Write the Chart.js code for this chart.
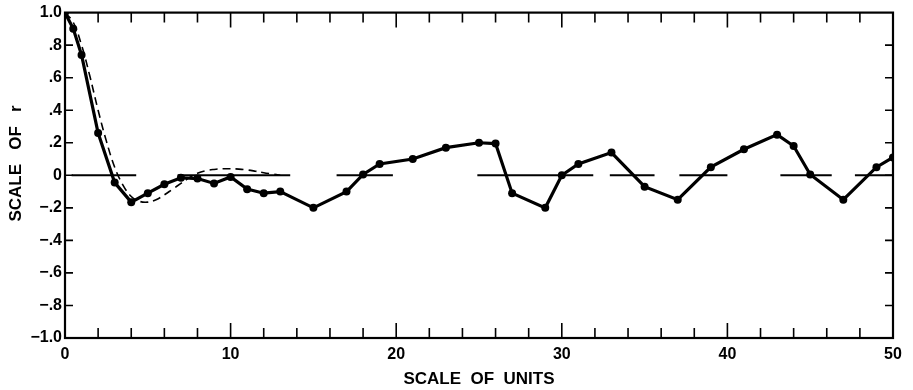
<!DOCTYPE html>
<html>
<head>
<meta charset="utf-8">
<script src="https://cdn.jsdelivr.net/npm/chart.js@4/dist/chart.umd.min.js"></script>
<style>
  html, body { margin: 0; padding: 0; background: #fff; }
  #wrap { width: 913px; height: 390px; position: relative; }
</style>
</head>
<body>
<div id="wrap"><canvas id="c"></canvas></div>
<script>
// Observed correlation (solid line with dots)
const obsX = [0, 0.5, 1, 2, 3, 4, 5, 6, 7, 8, 9, 10, 11, 12, 13, 15, 17, 18, 19, 21, 23, 25, 26, 27, 29, 30, 31, 33, 35, 37, 39, 41, 43, 44, 45, 47, 49, 50];
const obsY = [1.0, 0.90, 0.74, 0.26, -0.045, -0.165, -0.11, -0.055, -0.015, -0.02, -0.05, -0.01, -0.085, -0.11, -0.10, -0.20, -0.10, 0.005, 0.07, 0.10, 0.17, 0.20, 0.195, -0.11, -0.20, 0.0, 0.07, 0.14, -0.07, -0.15, 0.05, 0.16, 0.25, 0.18, 0.005, -0.15, 0.05, 0.11];

// Theoretical curve (dashed)
const theoX = [0, 0.5, 1, 1.5, 2, 2.5, 3, 3.5, 4, 4.5, 5, 5.5, 6, 6.5, 7, 7.5, 8, 8.5, 9, 9.5, 10, 10.5, 11, 11.5, 12, 12.5, 13];
const theoY = [1.0, 0.94, 0.80, 0.61, 0.40, 0.21, 0.05, -0.06, -0.13, -0.16, -0.165, -0.15, -0.12, -0.085, -0.05, -0.015, 0.012, 0.028, 0.036, 0.04, 0.04, 0.038, 0.033, 0.025, 0.016, 0.008, 0.0];

// Zero reference segments (start, end) in units
const zeroStarts = [0.4, 6.8, 16.4, 24.9, 32.9, 37.1, 43.2, 47.7];
const zeroEnds   = [4.3, 13.6, 19.8, 31.9, 35.6, 40.0, 46.3, 50.0];

// Tick labels
const xTickLabels = ["0", "10", "20", "30", "40", "50"];
const yTickLabels = ["\u22121.0", "\u2212.8", "\u2212.6", "\u2212.4", "\u2212.2", "0", ".2", ".4", ".6", ".8", "1.0"];
const xMinorTicks = [2, 4, 6, 8, 12, 14, 16, 18, 22, 24, 26, 28, 32, 34, 36, 38, 42, 44, 46, 48];
const xMajorTicks = [10, 20, 30, 40];
const yTicks = [-0.8, -0.6, -0.4, -0.2, 0, 0.2, 0.4, 0.6, 0.8];

const FONT = "'Liberation Sans', 'DejaVu Sans', sans-serif";

const datasets = [];
for (let i = 0; i < zeroStarts.length; i++) {
  datasets.push({
    data: [{x: zeroStarts[i], y: 0}, {x: zeroEnds[i], y: 0}],
    showLine: true, borderColor: '#000', borderWidth: 2, pointRadius: 0, fill: false
  });
}
datasets.push({
  data: theoX.map((x, i) => ({x, y: theoY[i]})),
  showLine: true, borderColor: '#000', borderWidth: 1.6, borderDash: [8, 5],
  pointRadius: 0, tension: 0.4, fill: false
});
datasets.push({
  data: obsX.map((x, i) => ({x, y: obsY[i]})),
  showLine: true, borderColor: '#000', borderWidth: 3.2, pointRadius: 4,
  pointBackgroundColor: '#000', pointBorderColor: '#000', pointBorderWidth: 0,
  tension: 0, fill: false
});

const frameTicks = {
  id: 'frameTicks',
  afterDatasetsDraw(chart) {
    const {ctx, chartArea: a, scales: {x, y}} = chart;
    ctx.save();
    ctx.strokeStyle = '#000';
    ctx.lineWidth = 2.2;
    ctx.strokeRect(a.left, a.top, a.right - a.left, a.bottom - a.top);
    ctx.lineWidth = 1.6;
    ctx.beginPath();
    const drawX = (v, len) => {
      const px = x.getPixelForValue(v);
      ctx.moveTo(px, a.bottom); ctx.lineTo(px, a.bottom - len);
      ctx.moveTo(px, a.top); ctx.lineTo(px, a.top + len);
    };
    xMinorTicks.forEach(v => drawX(v, 10));
    xMajorTicks.forEach(v => drawX(v, 15));
    yTicks.forEach(v => {
      const py = y.getPixelForValue(v);
      ctx.moveTo(a.left, py); ctx.lineTo(a.left + 8, py);
      ctx.moveTo(a.right, py); ctx.lineTo(a.right - 8, py);
    });
    ctx.stroke();
    ctx.restore();
  }
};

new Chart(document.getElementById('c'), {
  type: 'scatter',
  data: { datasets },
  options: {
    responsive: true,
    maintainAspectRatio: false,
    animation: false,
    layout: { padding: { top: 10, right: 20, left: 0, bottom: 0 } },
    plugins: { legend: { display: false }, tooltip: { enabled: false } },
    scales: {
      x: {
        type: 'linear', min: 0, max: 50,
        afterFit(s) { s.height = 52; },
        grid: { display: false, drawTicks: false },
        border: { display: false },
        ticks: {
          stepSize: 10, padding: 7, color: '#000', maxRotation: 0,
          font: { family: FONT, size: 16, weight: 'bold' },
          callback: (v, i) => xTickLabels[i]
        },
        title: {
          display: true, text: 'SCALE  OF  UNITS', color: '#000',
          font: { family: FONT, size: 17, weight: 'bold' },
          padding: { top: 0, bottom: 0 }
        }
      },
      y: {
        type: 'linear', min: -1, max: 1,
        afterFit(s) { s.width = 65; },
        grid: { display: false, drawTicks: false },
        border: { display: false },
        ticks: {
          stepSize: 0.2, padding: 3, color: '#000',
          font: { family: FONT, size: 16, weight: 'bold' },
          callback: (v, i) => yTickLabels[i]
        },
        title: {
          display: true, text: '     SCALE   OF   r', color: '#000',
          font: { family: FONT, size: 17, weight: 'bold' },
          padding: { top: 6, bottom: 0 }
        }
      }
    }
  },
  plugins: [frameTicks]
});
</script>
</body>
</html>
